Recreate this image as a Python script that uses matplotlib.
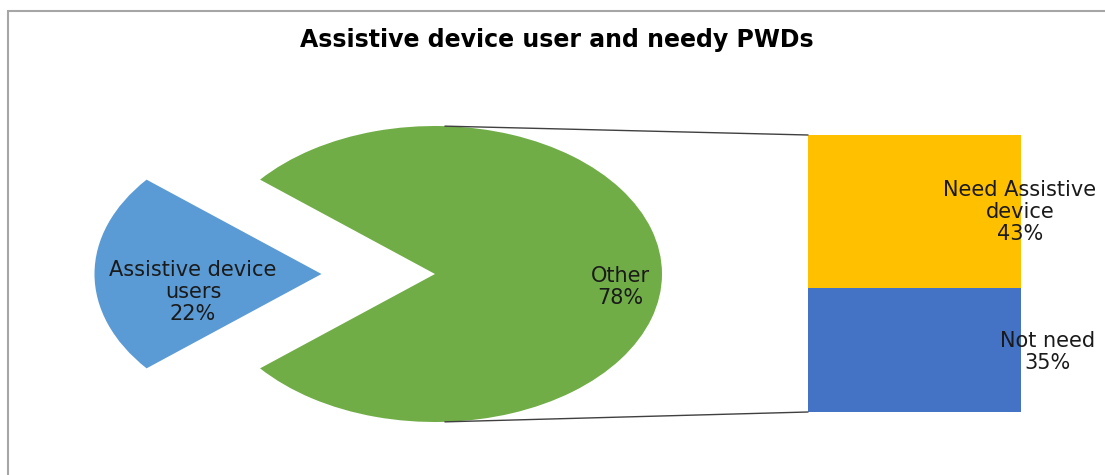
import numpy as np
import matplotlib.pyplot as plt
from matplotlib.patches import ConnectionPatch, Rectangle

# pie data
pie_labels = ['Assistive device\nusers', 'Other']
pie_values = [22, 78]
pie_colors = ['#5B9BD5', '#70AD47']

# bar data (split of "Other")
bar_labels = ['Not need', 'Need Assistive\ndevice']
bar_values = [35, 43]
bar_colors = ['#4472C4', '#FFC000']

title = 'Assistive device user and needy PWDs'

W, H = 1105, 475
fig = plt.figure(figsize=(W / 100, H / 100), dpi=100)
fig.patch.set_facecolor('white')

# chart border
fig.patches.append(Rectangle((8 / W, -0.01), 1.1, 1 - 11 / H + 0.01,
                             transform=fig.transFigure, fill=False,
                             edgecolor='#a6a6a6', linewidth=1.5))

# pie axes: pixel layout -> data units (radius = 1)
cx, cy = 435, 274
rx, ry = 227, 148
ax = fig.add_axes([0, 0, 1, 1])
blue_angle = 360 * pie_values[0] / sum(pie_values)
wedges, _ = ax.pie(pie_values, colors=pie_colors, startangle=180 - blue_angle / 2,
                   explode=[0.5, 0], radius=1, wedgeprops=dict(linewidth=0))
ax.set_aspect('auto')
ax.set_xlim(-cx / rx, (W - cx) / rx)
ax.set_ylim(-(H - cy) / ry, cy / ry)
ax.axis('off')

def fig_text(x, y, s, **kw):
    fig.text(x / W, 1 - y / H, s, ha='center', va='center', color='#1a1a1a',
             fontsize=15, linespacing=1.1, **kw)

fig_text(193, 292, f'{pie_labels[0]}\n{pie_values[0]}%')
fig_text(620, 287, f'{pie_labels[1]}\n{pie_values[1]}%')

# bar axes
bx0, bx1, by0, by1 = 808, 1021, 135, 412
bax = fig.add_axes([bx0 / W, 1 - by1 / H, (bx1 - bx0) / W, (by1 - by0) / H])
bottom = 0
for v, c in zip(bar_values, bar_colors):
    bax.bar(0, v, bottom=bottom, width=1, color=c, linewidth=0)
    bottom += v
bax.set_xlim(-0.5, 0.5)
bax.set_ylim(0, sum(bar_values))
bax.axis('off')

fig_text(1048, 352, f'{bar_labels[0]}\n{bar_values[0]}%')
fig_text(1020, 212, f'{bar_labels[1]}\n{bar_values[1]}%')

# connector lines
a = np.deg2rad(87.5)
for py, by in [(np.sin(a), sum(bar_values)), (-np.sin(a), 0)]:
    con = ConnectionPatch(xyA=(np.cos(a), py), coordsA=ax.transData,
                          xyB=(-0.5, by), coordsB=bax.transData,
                          color='#404040', linewidth=1)
    fig.add_artist(con)

fig.text(557 / W, 1 - 40 / H, title, ha='center', va='center',
         fontsize=17, fontweight='bold', color='black')

fig.savefig('out.png', dpi=100)
